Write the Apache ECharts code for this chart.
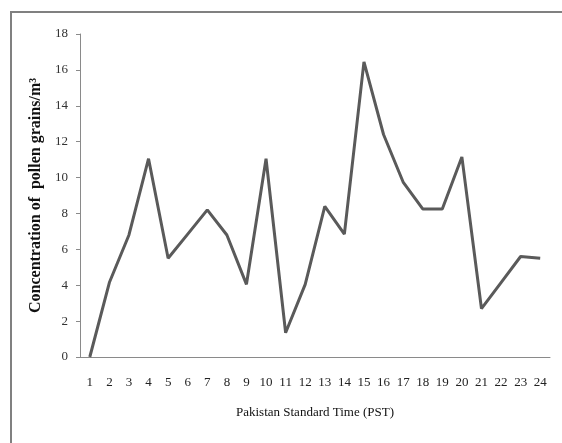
<!DOCTYPE html>
<html>
<head>
<meta charset="utf-8">
<script src="https://cdn.jsdelivr.net/npm/echarts@6/dist/echarts.min.js"></script>
<style>
  html, body { margin: 0; padding: 0; background: #fff; }
  #main { width: 562px; height: 443px; }
</style>
</head>
<body>
<div id="main"></div>
<script>
var hours = ['1', '2', '3', '4', '5', '6', '7', '8', '9', '10', '11', '12',
             '13', '14', '15', '16', '17', '18', '19', '20', '21', '22', '23', '24'];
var pollen = [0, 4.15, 6.8, 11.05, 5.5, 6.85, 8.2, 6.8, 4.05, 11.05, 1.35, 4.05,
              8.4, 6.85, 16.45, 12.4, 9.75, 8.25, 8.25, 11.15, 2.7, 4.15, 5.6, 5.5];
var yTicks = [0, 2, 4, 6, 8, 10, 12, 14, 16, 18];

var myChart = echarts.init(document.getElementById('main'));

var option = {
    animation: false,
    textStyle: { fontFamily: '"Liberation Serif", "DejaVu Serif", serif' },
    grid: {
        left: 80,
        right: 12,
        top: 34,
        bottom: 86
    },
    graphic: [
        {
            type: 'polyline',
            shape: { points: [[11, 443], [11, 12], [562, 12]] },
            style: { stroke: '#808080', lineWidth: 2, fill: null }
        }
    ],
    xAxis: {
        type: 'category',
        data: hours,
        boundaryGap: true,
        axisLine: { lineStyle: { color: '#8a8a8a', width: 1 } },
        axisTick: { show: false },
        axisLabel: {
            color: '#222',
            fontSize: 13,
            margin: 19,
            fontFamily: '"Liberation Serif", serif'
        },
        name: 'Pakistan Standard Time (PST)',
        nameLocation: 'middle',
        nameGap: 49,
        nameTextStyle: {
            color: '#111',
            fontSize: 13,
            fontFamily: '"Liberation Serif", serif'
        }
    },
    yAxis: {
        type: 'value',
        min: yTicks[0],
        max: yTicks[yTicks.length - 1],
        interval: 2,
        splitLine: { show: false },
        axisLine: { show: true, lineStyle: { color: '#8a8a8a', width: 1 } },
        axisTick: { show: true, length: 4, lineStyle: { color: '#8a8a8a' } },
        axisLabel: {
            color: '#333',
            fontSize: 13,
            margin: 12,
            fontFamily: '"Liberation Serif", serif'
        },
        name: 'Concentration of  pollen grains/m³',
        nameLocation: 'middle',
        nameGap: 33,
        nameTextStyle: {
            color: '#111',
            fontSize: 16,
            fontWeight: 'bold',
            fontFamily: '"Liberation Serif", serif'
        }
    },
    series: [
        {
            name: 'Pollen',
            type: 'line',
            data: pollen,
            symbol: 'none',
            lineStyle: { color: '#5a5a5a', width: 3 }
        }
    ]
};

myChart.setOption(option);
</script>
</body>
</html>
